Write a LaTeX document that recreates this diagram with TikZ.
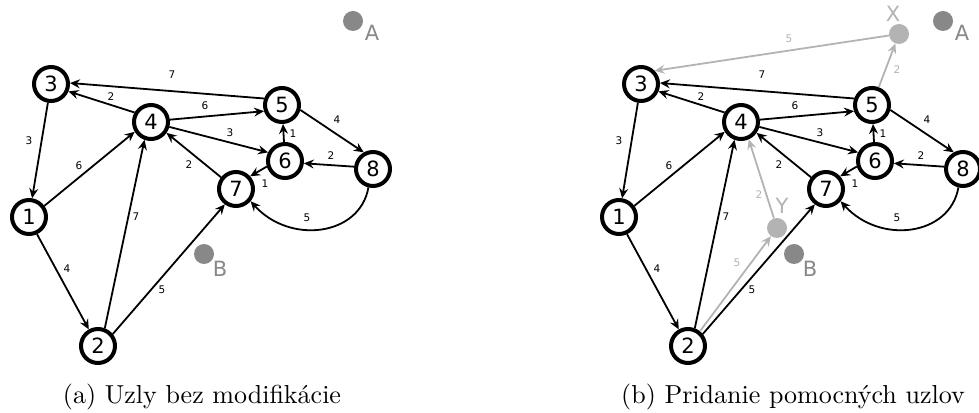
\documentclass[tikz,border=0pt]{standalone}
\usepackage{fontspec}
\newfontfamily\dejavu{DejaVu Sans}
\usetikzlibrary{arrows.meta}
\definecolor{lightg}{HTML}{B3B3B3}
\definecolor{darkg}{HTML}{888888}
\tikzset{
  vtx/.style={circle, draw, line width=4pt, minimum size=34pt, inner sep=0pt, font=\dejavu\fontsize{21}{21}\selectfont},
  edge/.style={line width=1.8pt, -{Stealth[length=10pt,width=9pt,inset=3.5pt]}},
  gedge/.style={edge, draw=lightg},
  lbl/.style={font=\dejavu\fontsize{10.5}{10.5}\selectfont, inner sep=0pt},
  glbl/.style={lbl, text=lightg},
  dotA/.style={circle, fill=darkg, minimum size=20pt, inner sep=0pt},
  dotX/.style={circle, fill=lightg, minimum size=20pt, inner sep=0pt},
  biglbl/.style={font=\dejavu\fontsize{21}{21}\selectfont, inner sep=0pt},
  captext/.style={font=\fontsize{10}{12}\selectfont, scale=2.6, inner sep=0pt}
}
\newcommand\basegraph{%
\node[vtx] (1) at (29,195) {1};
\node[vtx] (2) at (98,66) {2};
\node[vtx] (3) at (51,328) {3};
\node[vtx] (4) at (151,290) {4};
\node[vtx] (5) at (282,307) {5};
\node[vtx] (6) at (285,251) {6};
\node[vtx] (7) at (236,223) {7};
\node[vtx] (8) at (373,243) {8};
\node[dotA] (A) at (353,391) {};
\node[biglbl, text=darkg] (Al) at (372,379) {A};
\node[dotA] (B) at (204,158) {};
\node[biglbl, text=darkg] (Bl) at (220,143) {B};
\draw[edge] (5.160) -- (3.3) node[lbl, at={(172,337)}] {7};
\draw[edge] (4.150) -- (3.-23) node[lbl, at={(111,315)}] {2};
\draw[edge] (4.7) -- (5.199) node[lbl, at={(205,306)}] {6};
\draw[edge] (4.-15) -- (6.153) node[lbl, at={(230,279)}] {3};
\draw[edge] (6) -- (5) node[lbl, at={(293,278)}] {1};
\draw[edge] (5.-15) -- (8.119) node[lbl, at={(337,292)}] {4};
\draw[edge] (8.173) -- (6.-7) node[lbl, at={(331,256)}] {2};
\draw[edge] (6.197) -- (7.42) node[lbl, at={(265,228)}] {1};
\draw[edge] (7.142) -- (4.-35) node[lbl, at={(189,247)}] {2};
\draw[edge] (3) -- (1) node[lbl, at={(29,271)}] {3};
\draw[edge] (1.36) -- (4.211) node[lbl, at={(79,246)}] {6};
\draw[edge] (2.69) -- (4.250) node[lbl, at={(136,195)}] {7};
\draw[edge] (1.-65) -- (2.119) node[lbl, at={(67,143)}] {4};
\draw[edge] (2.39) -- (7.234) node[lbl, at={(162,122)}] {5};
\draw[edge] (8.-104) .. controls (360,176) and (290,167) .. (7.-40) node[lbl, at={(307,194)}] {5};
}
\begin{document}
\begin{tikzpicture}[x=1pt,y=1pt]
\useasboundingbox (0,0) rectangle (979,412);
% ---------- left graph ----------
\begin{scope}[name prefix=a-]
\basegraph
\node[captext] (cap) at (202,15) {(a) Uzly bez modifikácie};
\end{scope}
% ---------- right graph ----------
\begin{scope}[xshift=590pt, name prefix=b-]
\basegraph
\node[dotX] (X) at (309,378) {};
\node[biglbl, text=lightg] (Xl) at (303,398) {X};
\node[dotX] (Y) at (187,184) {};
\node[biglbl, text=lightg] (Yl) at (192,206) {Y};
\draw[gedge] (5) -- (X) node[glbl, at={(307,342)}] {2};
\draw[gedge] (X) -- (3.44) node[glbl, at={(199,373)}] {5};
\draw[gedge] (Y) -- (4.-66) node[glbl, at={(169,217)}] {2};
\draw[gedge] (2.51) -- (Y) node[glbl, at={(147,149)}] {5};
\node[captext] (cap) at (203,15) {(b) Pridanie pomocných uzlov};
\end{scope}
\end{tikzpicture}
\end{document}
